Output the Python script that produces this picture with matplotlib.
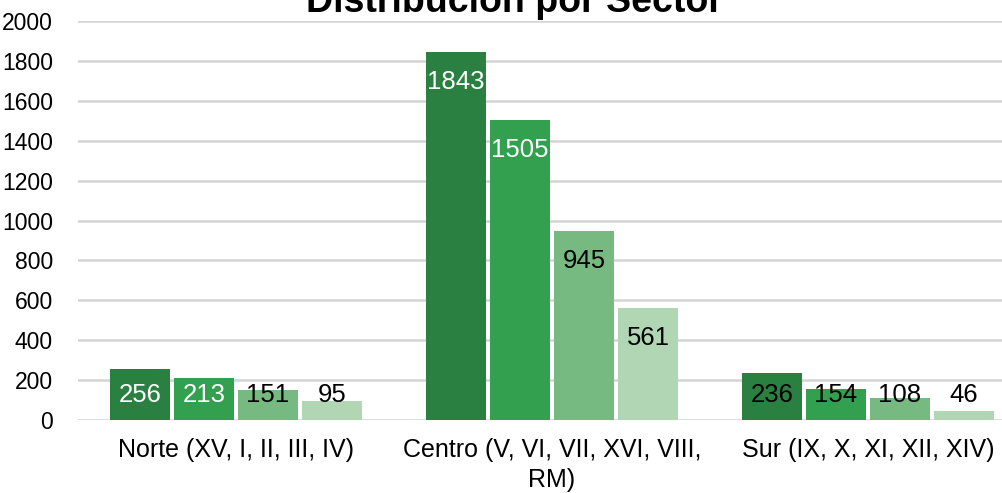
import matplotlib
matplotlib.use("Agg")
import matplotlib.pyplot as plt
import numpy as np

plt.rcParams['font.family'] = ['Liberation Sans', 'DejaVu Sans']

categories = ["Norte (XV, I, II, III, IV)",
              "Centro (V, VI, VII, XVI, VIII,\nRM)",
              "Sur (IX, X, XI, XII, XIV)"]
series1 = [256, 1843, 236]
series2 = [213, 1505, 154]
series3 = [151, 945, 108]
series4 = [95, 561, 46]
yticks = [0, 200, 400, 600, 800, 1000, 1200, 1400, 1600, 1800, 2000]
title = "Distribución por Sector"

series = [series1, series2, series3, series4]
colors = ['#2a8040', '#33a050', '#76b981', '#b0d6b4']
label_colors = [['white', 'white', 'black'],
                ['white', 'white', 'black'],
                ['black', 'black', 'black'],
                ['black', 'black', 'black']]

W, H = 1002, 493
fig = plt.figure(figsize=(W / 100, H / 100), dpi=100)
left_px, right_px = 78, 1026
bot_px, top_px = 420, 21
ax = fig.add_axes([left_px / W, 1 - bot_px / H,
                   (right_px - left_px) / W, (bot_px - top_px) / H])

x = np.arange(len(categories))
step = 64 / 316
width = 60 / 316
for i, (vals, c) in enumerate(zip(series, colors)):
    xs = x + (i - 1.5) * step
    ax.bar(xs, vals, width=width, color=c, zorder=3)
    for j, (xx, v) in enumerate(zip(xs, vals)):
        yc = max(v - 150, 125)
        ax.text(xx, yc, str(v), ha='center', va='center', fontsize=18.5,
                color=label_colors[i][j], zorder=4)

ax.set_xlim(-0.5, 2.5)
ax.set_ylim(0, 2000)
ax.set_yticks(yticks)
ax.set_yticklabels([str(t) for t in yticks], fontsize=16.5)
ax.set_xticks(x)
ax.set_xticklabels(categories, fontsize=18, linespacing=1.3)
ax.tick_params(axis='both', length=0)
ax.tick_params(axis='y', pad=18)
ax.tick_params(axis='x', pad=13)
ax.yaxis.grid(True, color='#d4d4d4', linewidth=1.8, zorder=0)
ax.set_axisbelow(True)
for s in ax.spines.values():
    s.set_visible(False)

fig.text(515 / W, 1 - 12 / H, title, ha='center', va='baseline',
         fontsize=27, fontweight='bold')

fig.savefig("out.png", dpi=100)
